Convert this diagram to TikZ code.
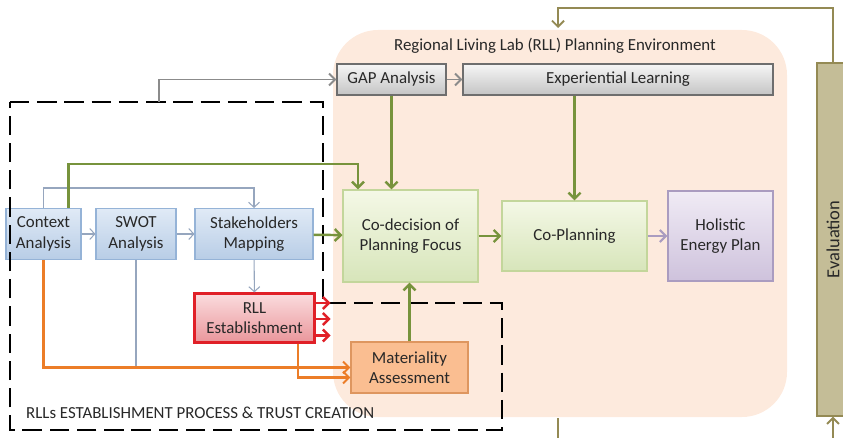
\documentclass[tikz,border=0pt]{standalone}
\usepackage{fontspec}
\setmainfont{Carlito}
\usetikzlibrary{positioning,arrows.meta,calc}
\definecolor{rlPink}{RGB}{253,234,221}
\definecolor{rlBlueTop}{RGB}{224,234,246}
\definecolor{rlBlueBot}{RGB}{184,205,230}
\definecolor{rlBlueLine}{RGB}{149,179,215}
\definecolor{rlGrayTop}{RGB}{246,246,246}
\definecolor{rlGrayBot}{RGB}{196,196,196}
\definecolor{rlGrayLine}{RGB}{110,110,110}
\definecolor{rlGreenTop}{RGB}{244,248,230}
\definecolor{rlGreenBot}{RGB}{215,229,186}
\definecolor{rlGreenLine}{RGB}{195,214,155}
\definecolor{rlGreen}{RGB}{119,147,60}
\definecolor{rlPurpleTop}{RGB}{240,235,245}
\definecolor{rlPurpleBot}{RGB}{206,194,220}
\definecolor{rlPurpleLine}{RGB}{170,156,192}
\definecolor{rlRedTop}{RGB}{250,220,222}
\definecolor{rlRedBot}{RGB}{234,150,155}
\definecolor{rlRed}{RGB}{224,32,40}
\definecolor{rlOrangeFill}{RGB}{250,190,145}
\definecolor{rlOrangeLine}{RGB}{222,150,95}
\definecolor{rlOrange}{RGB}{236,125,40}
\definecolor{rlTan}{RGB}{196,189,151}
\definecolor{rlOlive}{RGB}{148,138,84}
\definecolor{rlThin}{RGB}{150,166,190}
\definecolor{rlText}{RGB}{40,40,40}

\begin{document}
\begin{tikzpicture}[
    font=\fontsize{9.6}{11.6}\selectfont,
    box/.style={rectangle, draw, line width=0.6pt, align=center, text=rlText, inner sep=2pt},
    bluebox/.style={box, draw=rlBlueLine, top color=rlBlueTop, bottom color=rlBlueBot, minimum height=1.02cm},
    graybox/.style={box, draw=rlGrayLine, top color=rlGrayTop, bottom color=rlGrayBot, minimum height=0.62cm},
    greenbox/.style={box, draw=rlGreenLine, top color=rlGreenTop, bottom color=rlGreenBot},
    purplebox/.style={box, draw=rlPurpleLine, top color=rlPurpleTop, bottom color=rlPurpleBot},
    redbox/.style={box, draw=rlRed, line width=1.3pt, top color=rlRedTop, bottom color=rlRedBot},
    orangebox/.style={box, draw=rlOrangeLine, fill=rlOrangeFill},
    evalbox/.style={box, draw=rlOlive, fill=rlTan, font=\fontsize{10.5}{12}\selectfont},
    trust/.style={draw=black, line width=1.5pt, dash pattern=on 11pt off 4.5pt},
    tip/.style={-{Straight Barb[length=1.2mm,width=2.4mm]}},
    thinarrow/.style={draw=rlThin, line width=0.6pt, -{Straight Barb[length=1mm,width=2.2mm]}},
    thinline/.style={draw=rlThin, line width=0.6pt},
    greenarrow/.style={tip, draw=rlGreen, line width=1.4pt},
    grayarrow/.style={tip, draw=rlGrayLine!80, line width=1.1pt},
    purplearrow/.style={tip, draw=rlPurpleLine, line width=1.3pt},
    redarrow/.style={tip, draw=rlRed, line width=1.4pt},
    orangearrow/.style={tip, draw=rlOrange, line width=1.15pt},
    evalline/.style={draw=rlOlive, line width=1.1pt},
    evalarrow/.style={tip, draw=rlOlive, line width=1.1pt}
]
  \clip (0,0) rectangle (16.86,8.74);
  \fill[rlPink, rounded corners=9mm] (6.66,0.4) rectangle (15.74,8.14);
  \node[text=rlText] (envtitle) at (11.1,7.82) {Regional Living Lab (RLL) Planning Environment};

  \node[bluebox, minimum width=1.5cm] (ctx) at (0.87,4.06) {Context\\Analysis};
  \node[bluebox, minimum width=1.6cm] (swot) at (2.72,4.06) {SWOT\\Analysis};
  \node[bluebox, minimum width=2.36cm] (stake) at (5.08,4.06) {Stakeholders\\Mapping};
  \node[redbox, minimum width=2.4cm, minimum height=0.98cm] (rll) at (5.09,2.38) {RLL\\Establishment};
  \node[orangebox, minimum width=2.34cm, minimum height=1.02cm] (mat) at (8.19,1.39) {Materiality\\Assessment};

  \node[graybox, minimum width=2.18cm] (gap) at (7.83,7.15) {GAP Analysis};
  \node[graybox, minimum width=6.2cm] (exp) at (12.36,7.15) {Experiential Learning};
  \node[greenbox, minimum width=2.7cm, minimum height=1.84cm] (codec) at (8.21,4.02) {Co-decision of\\Planning Focus};
  \node[greenbox, minimum width=2.9cm, minimum height=1.4cm] (coplan) at (11.49,4.02) {Co-Planning};
  \node[purplebox, minimum width=2.1cm, minimum height=1.8cm] (plan) at (14.41,4.02) {Holistic\\Energy Plan};
  \node[evalbox, minimum width=0.64cm, minimum height=7.06cm] (eval) at (16.66,3.95) {\rotatebox{90}{Evaluation}};

  \draw[trust] (0.2,6.7) -- (6.46,6.7) -- (6.46,2.68) -- (10.04,2.68) -- (10.04,0.14) -- (0.2,0.14) -- cycle;
  \node[anchor=west, text=rlText] (trustlabel) at (0.4,0.48) {RLLs ESTABLISHMENT PROCESS \& TRUST CREATION};

  \coordinate (gapsrc) at (3.18,6.7);
  \draw[grayarrow] (gapsrc) |- (gap);
  \draw[grayarrow] (gap) -- (exp);

  \draw[thinarrow] (ctx) -- (swot);
  \draw[thinarrow] (swot) -- (stake);
  \draw[thinarrow] (ctx.north) -- ++(0,0.4) -| (stake.north);
  \draw[thinarrow] (stake) -- (rll);
  \draw[thinline] (swot.south) -- (swot.south |- mat.west);

  \draw[orangearrow] (ctx.south) |- (mat.west);
  \draw[orangearrow] ([xshift=8.7mm]rll.south) |- ([yshift=-2mm]mat.west);

  \draw[greenarrow] ([xshift=5mm]ctx.north) -- ++(0,0.88) -| ([xshift=-10.5mm]codec.north);
  \draw[greenarrow] (gap.south) -- (gap.south |- codec.north);
  \draw[greenarrow] (exp.south -| coplan.north) -- (coplan.north);
  \draw[greenarrow] (stake) -- (codec);
  \draw[greenarrow] (codec) -- (coplan);
  \draw[greenarrow] (mat.north) -- (mat.north |- codec.south);
  \draw[purplearrow] (coplan) -- (plan);

  \foreach \dy [count=\i] in {0.3,-0.02,-0.35} {
    \coordinate (rllout\i) at ([xshift=3mm,yshift=\dy cm]rll.east);
    \draw[redarrow] ([yshift=\dy cm]rll.east) -- (rllout\i);
  }

  \coordinate (fbtop) at (11.16,8.58);
  \coordinate (fbend) at (11.16,8.18);
  \draw[evalarrow] (eval.north) |- (fbtop) -- (fbend);
  \coordinate (envbottom) at (11.16,0.38);
  \coordinate (bottomL) at (11.16,-0.2);
  \coordinate (bottomR) at (16.66,-0.2);
  \draw[evalline] (envbottom) -- (bottomL);
  \draw[evalarrow] (bottomR) -- (eval.south);
\end{tikzpicture}
\end{document}
